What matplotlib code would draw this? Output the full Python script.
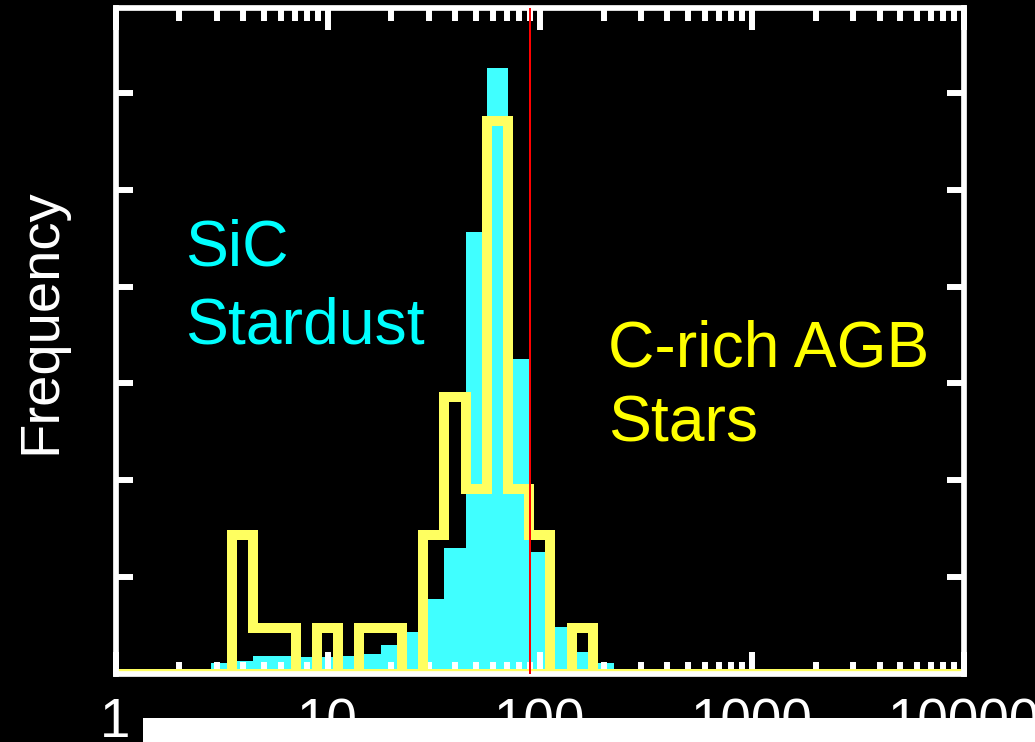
import numpy as np
import matplotlib
matplotlib.use('Agg')
import matplotlib.pyplot as plt
from matplotlib.patches import Rectangle
from matplotlib.ticker import LogLocator, NullFormatter, FixedLocator, NullLocator

plt.rcParams['font.family'] = ['Liberation Sans', 'DejaVu Sans']

# ---------------- data ----------------
bin_width_dex = 0.1
sic_first_edge_log = 0.45
agb_first_edge_log = 0.55
sic_freq = [0.0054, 0.0067, 0.0091, 0.0091, 0.0085, 0.0085, 0.0091, 0.0102,
            0.0148, 0.0217, 0.0384, 0.0648, 0.2282, 0.3129, 0.1624, 0.0630,
            0.0243, 0.0114, 0.0057]
agb_freq = [0.0714, 0.0238, 0.0238, 0.0, 0.0238, 0.0, 0.0238, 0.0238, 0.0,
            0.0714, 0.1429, 0.0952, 0.2857, 0.0952, 0.0714, 0.0, 0.0238]
red_line_x = 90
xtick_values = [1, 10, 100, 1000, 10000]
xtick_labels = ['1', '10', '100', '1000', '10000']
ytick_values = [0.05, 0.10, 0.15, 0.20, 0.25, 0.30]
x_range = [1, 10000]

sic_edges = 10 ** (sic_first_edge_log + bin_width_dex * np.arange(len(sic_freq) + 1))
agb_edges = 10 ** (agb_first_edge_log + bin_width_dex * np.arange(len(agb_freq) + 1))

W, H = 1035, 742
fig = plt.figure(figsize=(W / 100, H / 100), dpi=100, facecolor='black')
ax = fig.add_axes([115.5 / W, 1 - 673.7 / H, (964 - 115.5) / W, (673.7 - 7.8) / H])
ax.set_facecolor('black')
ax.set_xscale('log')
ax.set_xlim(*x_range)
ax.set_ylim(0, 0.344)

CYAN = '#40ffff'
YEL = '#ffff60'

ax.stairs(sic_freq, sic_edges, fill=True, color=CYAN, zorder=1)
ax.stairs(agb_freq, agb_edges, baseline=0, fill=False, edgecolor=YEL, lw=7.2,
          joinstyle='miter', capstyle='projecting', zorder=2)
ax.plot(x_range, [0, 0], color=YEL, lw=7.2, solid_capstyle='butt', zorder=2)
ax.axvline(red_line_x, color='red', lw=1.44, zorder=3)

for s in ax.spines.values():
    s.set_color('white')
    s.set_linewidth(4.1)

ax.xaxis.set_major_locator(FixedLocator(xtick_values))
ax.xaxis.set_minor_locator(LogLocator(base=10, subs=np.arange(2, 10), numticks=20))
ax.xaxis.set_minor_formatter(NullFormatter())
ax.set_xticklabels(xtick_labels)
ax.set_yticks(ytick_values)
ax.set_yticklabels([])
ax.yaxis.set_minor_locator(NullLocator())

ax.tick_params(which='both', direction='in', top=True, right=True,
               colors='white', width=4.3)
ax.tick_params(axis='x', which='major', length=15.6, pad=17, labelsize=39.5,
               labelcolor='white')
ax.tick_params(axis='x', which='minor', length=9)
ax.tick_params(axis='y', which='major', length=12)

fig.text(41.5 / W, 1 - 321 / H, 'Frequency', rotation=90, ha='center', va='center',
         fontsize=40.5, color='white')

fs = 46.3
fig.text(185 / W, 1 - 265.5 / H, 'SiC', va='baseline', ha='left', fontsize=fs, color='#00ffff')
fig.text(185 / W, 1 - 343 / H, 'Stardust', va='baseline', ha='left', fontsize=fs, color='#00ffff')
fig.text(608.5 / W, 1 - 366.5 / H, 'C-rich AGB', va='baseline', ha='left', fontsize=fs, color='#ffff00')
fig.text(608.5 / W, 1 - 441.5 / H, 'Stars', va='baseline', ha='left', fontsize=fs, color='#ffff00')

fig.add_artist(Rectangle((143.3 / W, 0), 1, (H - 718.3) / H, transform=fig.transFigure,
                         facecolor='white', edgecolor='none', zorder=10))

fig.savefig('out.png', dpi=100, facecolor='black')
